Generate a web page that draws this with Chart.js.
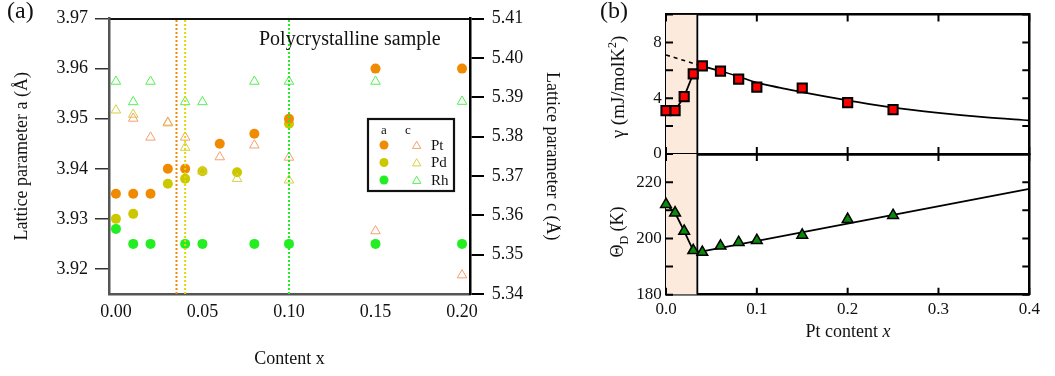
<!DOCTYPE html>
<html>
<head>
<meta charset="utf-8">
<script src="https://cdn.jsdelivr.net/npm/chart.js@4.4.1/dist/chart.umd.min.js"></script>
<style>
  body { margin: 0; background: #fff; }
  #wrap { position: relative; width: 1055px; height: 376px; overflow: hidden; font-family: "Liberation Serif", "Times New Roman", serif; color: #111; }
  canvas { position: absolute; top: 0; }
  .txt { position: absolute; white-space: nowrap; line-height: 1; }
  .rot { position: absolute; white-space: nowrap; line-height: 1; transform: translate(-50%, -50%) rotate(-90deg); }
  sup, sub { line-height: 0; }
</style>
</head>
<body>
<div id="wrap">
  <canvas id="chartA" width="561" height="376" style="left:0"></canvas>
  <canvas id="chartG" width="495" height="376" style="left:560px"></canvas>
  <canvas id="chartT" width="495" height="376" style="left:560px"></canvas>
  <div class="txt" style="left:7px;top:-2px;font-size:24px">(a)</div>
  <div class="txt" style="left:600px;top:-2px;font-size:24px">(b)</div>
  <div class="txt" style="left:259px;top:28px;font-size:20px">Polycrystalline sample</div>
  <div class="rot" style="left:617px;top:87px;font-size:19px">&gamma; (mJ/molK<sup style="font-size:12px">2</sup>)</div>
  <div class="rot" style="left:617px;top:232px;font-size:18px">&Theta;<sub style="font-size:12px">D</sub> (K)</div>
  <div class="txt" style="left:748px;top:322px;width:200px;text-align:center;font-size:18px">Pt content <i>x</i></div>
</div>
<script>
// ---------- panel (a): lattice parameters ----------
var ptX  = [0, 0.01, 0.02, 0.03, 0.04, 0.06, 0.08, 0.10, 0.15, 0.20];
var ptA  = [3.935, 3.935, 3.935, 3.940, 3.940, 3.945, 3.947, 3.950, 3.960, 3.960];
var ptCX = [0.01, 0.02, 0.03, 0.04, 0.06, 0.08, 0.10, 0.15, 0.20];
var ptC  = [5.3846, 5.3798, 5.3836, 5.3798, 5.3748, 5.3778, 5.3747, 5.3560, 5.3448];
var pdX  = [0, 0.01, 0.03, 0.04, 0.05, 0.07, 0.10];
var pdA  = [3.930, 3.931, 3.937, 3.938, 3.9395, 3.9393, 3.949];
var pdC  = [5.3867, 5.3856, 5.3834, 5.3772, 5.3712, 5.3693, 5.3689];
var rhX  = [0, 0.01, 0.02, 0.04, 0.05, 0.08, 0.10, 0.15, 0.20];
var rhA  = [3.928, 3.925, 3.925, 3.925, 3.925, 3.925, 3.925, 3.925, 3.925];
var rhC  = [5.3940, 5.3888, 5.3940, 5.3888, 5.3888, 5.3940, 5.3940, 5.3940, 5.3889];
var limitX = [0.035, 0.040, 0.10];          // dotted lines Pt, Pd, Rh
var xTicksA = [0, 0.05, 0.10, 0.15, 0.20];
var aTicks = [3.92, 3.93, 3.94, 3.95, 3.96, 3.97];
var cTicks = [5.34, 5.35, 5.36, 5.37, 5.38, 5.39, 5.40, 5.41];
var legendNames = ['Pt', 'Pd', 'Rh'];

// ---------- panel (b): Pt doped ----------
var sampleX = [0, 0.01, 0.02, 0.03, 0.04, 0.06, 0.08, 0.10, 0.15, 0.20, 0.25];
var gamma   = [3.11, 3.11, 4.11, 5.75, 6.32, 5.94, 5.37, 4.80, 4.73, 3.68, 3.18];
var thetaD  = [212.1, 209.1, 202.6, 195.7, 195.1, 197.3, 198.6, 199.3, 201.2, 206.8, 208.2];
var gammaFitX = [0.034, 0.04, 0.06, 0.08, 0.10, 0.125, 0.15, 0.175, 0.20, 0.25, 0.30, 0.35, 0.40];
var gammaFit  = [6.42, 6.30, 5.95, 5.55, 5.12, 4.76, 4.44, 4.13, 3.85, 3.33, 2.95, 2.64, 2.40];
var gammaExtX = [0, 0.034];
var gammaExt  = [7.10, 6.42];
var thetaFitX = [0.04, 0.40];
var thetaFit  = [195.4, 217.6];
var boundaryX = 0.0345;
var xTicksB = [0, 0.1, 0.2, 0.3, 0.4];
var gammaTicks = [0, 2, 4, 6, 8, 10];
var gammaLabels = [0, 4, 8];
var thetaTicks = [180, 190, 200, 210, 220, 230];
var thetaLabels = [180, 200, 220];

var circleColors = ['#F08A00', '#CCC800', '#22EE22'];
var triColors    = ['#F4A070', '#D6D040', '#55EE55'];
var lineColors   = ['#F08A00', '#DDD800', '#22EE22'];
var FONT = '"Liberation Serif", "Times New Roman", serif';

function pts(xs, ys) { return xs.map(function (x, i) { return {x: x, y: ys[i]}; }); }
function fixTicks(list) { return function (s) { s.ticks = list.map(function (v) { return {value: v}; }); }; }

var boxLegend = {
  id: 'boxLegend',
  afterDraw: function (chart) {
    var ctx = chart.ctx;
    ctx.save();
    ctx.lineWidth = 2.2;
    ctx.strokeStyle = '#111';
    ctx.strokeRect(368, 119, 86, 72);
    ctx.fillStyle = '#111';
    ctx.font = '13px ' + FONT;
    ctx.textAlign = 'center';
    ctx.fillText('a', 384, 134);
    ctx.fillText('c', 408, 134);
    ctx.textAlign = 'left';
    ctx.font = '15px ' + FONT;
    legendNames.forEach(function (name, i) {
      var y = 145 + i * 17.5;
      ctx.fillStyle = circleColors[i];
      Chart.helpers.drawPoint(ctx, {pointStyle: 'circle', radius: 4.5, borderWidth: 0}, 384, y);
      ctx.fillStyle = 'rgba(0,0,0,0)';
      ctx.strokeStyle = triColors[i];
      ctx.lineWidth = 1;
      Chart.helpers.drawPoint(ctx, {pointStyle: 'triangle', radius: 4.8, borderWidth: 1}, 416.7, y + 1);
      ctx.fillStyle = '#111';
      ctx.fillText(name, 431, y + 4.5);
    });
    ctx.restore();
  }
};

// ticks pointing into the plot, on all four sides (panel b)
var inwardTicks = {
  id: 'inwardTicks',
  afterDraw: function (chart) {
    var ctx = chart.ctx, a = chart.chartArea, L = 7;
    var sx = chart.scales.x, sy = chart.scales.y;
    ctx.save();
    ctx.strokeStyle = '#000';
    ctx.lineWidth = 2;
    ctx.beginPath();
    sx.ticks.forEach(function (t) {
      var px = sx.getPixelForValue(t.value);
      ctx.moveTo(px, a.bottom); ctx.lineTo(px, a.bottom - L);
      ctx.moveTo(px, a.top); ctx.lineTo(px, a.top + L);
    });
    sy.ticks.forEach(function (t) {
      var py = sy.getPixelForValue(t.value);
      ctx.moveTo(a.left, py); ctx.lineTo(a.left + L, py);
      ctx.moveTo(a.right, py); ctx.lineTo(a.right - L, py);
    });
    ctx.stroke();
    ctx.restore();
  }
};

// --------- panel (a) ---------
var dsA = [];
limitX.forEach(function (x, i) {
  dsA.push({data: pts([x, x], [3.915, 3.97]), yAxisID: 'y', showLine: true, borderColor: lineColors[i],
    borderWidth: 2, borderDash: [2, 2], pointRadius: 0});
});
[[ptCX, ptC], [pdX, pdC], [rhX, rhC]].forEach(function (s, i) {
  dsA.push({data: pts(s[0], s[1]), yAxisID: 'y2', pointStyle: 'triangle', pointRadius: 5.5,
    pointBackgroundColor: 'rgba(0,0,0,0)', pointBorderColor: triColors[i], pointBorderWidth: 1, clip: false});
});
[[ptX, ptA], [pdX, pdA], [rhX, rhA]].forEach(function (s, i) {
  dsA.push({data: pts(s[0], s[1]), yAxisID: 'y', pointStyle: 'circle', pointRadius: 5,
    pointBackgroundColor: circleColors[i], pointBorderWidth: 0, clip: false});
});

new Chart(document.getElementById('chartA'), {
  type: 'scatter',
  data: {datasets: dsA},
  options: {
    responsive: false, animation: false, events: [],
    layout: {padding: {top: 12.7, left: 0, right: 0, bottom: 0}},
    plugins: {legend: {display: false}, tooltip: {enabled: false}},
    scales: {
      x: {
        type: 'linear', position: 'bottom', min: -0.004, max: 0.2046,
        afterBuildTicks: fixTicks(xTicksA),
        afterFit: function (s) { s.height = 82; },
        grid: {drawOnChartArea: false, drawTicks: false},
        border: {color: '#555', width: 2.5},
        ticks: {padding: 7.7, color: '#111', font: {family: FONT, size: 18},
          callback: function (v) { return v.toFixed(2); }},
        title: {display: true, text: 'Content x', color: '#111', font: {family: FONT, size: 18},
          padding: {top: 0, bottom: 6.2}}
      },
      xTop: {
        type: 'linear', position: 'top', min: 0, max: 1,
        afterFit: function (s) { s.height = 0; },
        grid: {drawOnChartArea: false, drawTicks: false},
        border: {color: '#111', width: 2},
        ticks: {display: false}
      },
      y: {
        type: 'linear', position: 'left', min: 3.915, max: 3.97,
        afterBuildTicks: fixTicks(aTicks),
        afterFit: function (s) { s.width = 109; },
        grid: {drawOnChartArea: false, tickLength: 14, color: '#333', lineWidth: 1.5},
        border: {color: '#555', width: 2.5},
        ticks: {padding: 7, color: '#111', font: {family: FONT, size: 18},
          callback: function (v) { return v.toFixed(2); }},
        title: {display: true, text: 'Lattice parameter a (Å)', color: '#111',
          font: {family: FONT, size: 18}, padding: {top: 11.5, bottom: 0}}
      },
      y2: {
        type: 'linear', position: 'right', min: 5.34, max: 5.41,
        afterBuildTicks: fixTicks(cTicks),
        afterFit: function (s) { s.width = 91; },
        grid: {drawOnChartArea: false, tickLength: 14, color: '#000', lineWidth: 2},
        border: {color: '#000', width: 2.5},
        ticks: {padding: 7.7, color: '#111', font: {family: FONT, size: 18},
          callback: function (v) { return v.toFixed(2); }},
        title: {display: true, text: 'Lattice parameter c (Å)', color: '#111',
          font: {family: FONT, size: 18, lineHeight: 1}, padding: {top: 0, bottom: 0}}
      }
    }
  },
  plugins: [boxLegend]
});

// --------- panel (b) ---------
function frameScales(yMin, yMax, yTicks, yLabels, topH, bottomH, showX) {
  var noTicks = {drawOnChartArea: false, drawTicks: false};
  var border = {color: '#000', width: 2.5};
  return {
    x: {
      type: 'linear', position: 'bottom', min: 0, max: 0.4,
      afterBuildTicks: fixTicks(xTicksB),
      afterFit: function (s) { s.height = bottomH; },
      grid: noTicks, border: border,
      ticks: {display: showX, padding: 5.1, color: '#111', font: {family: FONT, size: 17},
        callback: function (v) { return v.toFixed(1); }}
    },
    xTop: {
      type: 'linear', position: 'top', min: 0, max: 0.4,
      afterFit: function (s) { s.height = topH; },
      grid: noTicks, border: border, ticks: {display: false}
    },
    y: {
      type: 'linear', position: 'left', min: yMin, max: yMax,
      afterBuildTicks: fixTicks(yTicks),
      afterFit: function (s) { s.width = 106; },
      grid: noTicks, border: border,
      ticks: {padding: 4.3, color: '#111', font: {family: FONT, size: 17},
        callback: function (v) { return yLabels.indexOf(v) >= 0 ? String(v) : ''; }}
    },
    yRight: {
      type: 'linear', position: 'right', min: yMin, max: yMax,
      afterFit: function (s) { s.width = 25.7; },
      grid: noTicks, border: border, ticks: {display: false}
    }
  };
}

function boundarySets(yMin, yMax) {
  return [
    {data: pts([boundaryX, boundaryX], [yMin, yMax]), showLine: true, borderColor: '#000',
      borderWidth: 1.8, pointRadius: 0},
    {data: pts([0, boundaryX], [yMax, yMax]), showLine: true, fill: 'start',
      backgroundColor: '#FCEBDC', borderWidth: 0, borderColor: 'rgba(0,0,0,0)', pointRadius: 0}
  ];
}

function lowSegment(ctx) { return ctx.p1DataIndex <= 4 ? '#000' : 'rgba(0,0,0,0)'; }

new Chart(document.getElementById('chartG'), {
  type: 'scatter',
  data: {datasets: [
    {data: pts(sampleX, gamma), showLine: true, borderColor: '#000', borderWidth: 1.8,
      segment: {borderColor: lowSegment},
      pointStyle: 'rect', pointRadius: 6.5, pointBackgroundColor: '#FF0000',
      pointBorderColor: '#000', pointBorderWidth: 2, clip: false},
    {data: pts(gammaFitX, gammaFit), showLine: true, borderColor: '#000', borderWidth: 1.8,
      pointRadius: 0, cubicInterpolationMode: 'monotone'},
    {data: pts(gammaExtX, gammaExt), showLine: true, borderColor: '#000', borderWidth: 1.6,
      borderDash: [4, 4], pointRadius: 0}
  ].concat(boundarySets(0, 10))},
  options: {
    responsive: false, animation: false, events: [],
    layout: {padding: 0},
    plugins: {legend: {display: false}, tooltip: {enabled: false}},
    scales: frameScales(0, 10, gammaTicks, gammaLabels, 13.3, 222, false)
  },
  plugins: [inwardTicks]
});

new Chart(document.getElementById('chartT'), {
  type: 'scatter',
  data: {datasets: [
    {data: pts(sampleX, thetaD), showLine: true, borderColor: '#000', borderWidth: 1.8,
      segment: {borderColor: lowSegment},
      pointStyle: 'triangle', pointRadius: 6.2, pointBackgroundColor: '#0A8A0A',
      pointBorderColor: '#000', pointBorderWidth: 1.5, clip: false},
    {data: pts(thetaFitX, thetaFit), showLine: true, borderColor: '#000', borderWidth: 1.8,
      pointRadius: 0}
  ].concat(boundarySets(180, 230))},
  options: {
    responsive: false, animation: false, events: [],
    layout: {padding: 0},
    plugins: {legend: {display: false}, tooltip: {enabled: false}},
    scales: frameScales(180, 230, thetaTicks, thetaLabels, 154, 81.3, true)
  },
  plugins: [inwardTicks]
});
</script>
</body>
</html>
